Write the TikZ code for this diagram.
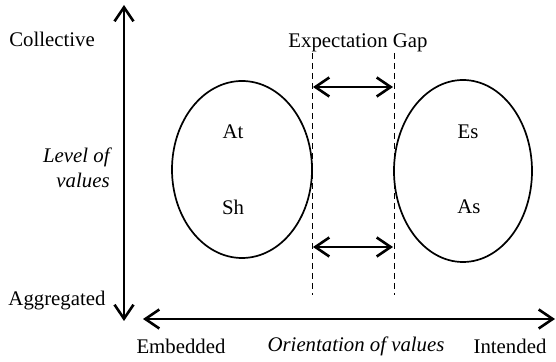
\documentclass[tikz,border=0pt]{standalone}
\usepackage{fontspec}
\setmainfont{Liberation Serif}
\usetikzlibrary{arrows.meta}

\tikzset{
  barb/.tip={Straight Barb[length=7pt, width=9.5pt, line width=1.3pt]},
  axisline/.style={line width=1.1pt, barb-barb},
  gapline/.style={line width=0.9pt, barb-barb},
  gapedge/.style={densely dashed, line width=0.5pt},
  lbl/.style={font=\fontsize{10.4}{12.4}\selectfont},
  ilbl/.style={font=\fontsize{10.4}{12.4}\selectfont\itshape},
}

\begin{document}
\begin{tikzpicture}[x=0.5pt, y=-0.5pt]
    \useasboundingbox (0,0) rectangle (556,362);
    % axes
    \coordinate (ytop) at (124,5);
    \coordinate (ybot) at (124,321);
    \coordinate (xleft) at (143,319);
    \coordinate (xright) at (555,319);
    \draw[axisline] (ybot) -- (ytop);
    \draw[axisline] (xleft) -- (xright);
    \node[lbl] (collective) at (52,39) {Collective};
    \node[lbl] (aggregated) at (57,301) {Aggregated};
    \node[ilbl, align=right, anchor=east, inner sep=0pt] (level) at (110,168) {Level of\\values};
    \node[lbl] (embedded) at (181,346) {Embedded};
    \node[ilbl] (orientation) at (356,346) {Orientation of values};
    \node[lbl] (intended) at (510,346) {Intended};

    % the two value sets
    \draw[line width=0.85pt] (242,169.5) ellipse [x radius=70, y radius=88.5];
    \draw[line width=0.85pt] (463,171) ellipse [x radius=69, y radius=91];
    \node[lbl] (at) at (233,132) {At};
    \node[lbl] (sh) at (233,207) {Sh};
    \node[lbl] (es) at (468,132) {Es};
    \node[lbl] (as) at (469,207) {As};

    % expectation gap
    \node[lbl] (gap) at (358,43) {Expectation Gap};
    \coordinate (gl) at (312,53);
    \coordinate (gr) at (394,53);
    \coordinate (gldown) at (312,295);
    \coordinate (grdown) at (394,295);
    \draw[gapedge] (gl) -- (gldown);
    \draw[gapedge] (gr) -- (grdown);
    \coordinate (ga) at (313,87);
    \coordinate (gb) at (393,87);
    \coordinate (gc) at (313,247);
    \coordinate (gd) at (393,247);
    \draw[gapline] (ga) -- (gb);
    \draw[gapline] (gc) -- (gd);
\end{tikzpicture}
\end{document}
